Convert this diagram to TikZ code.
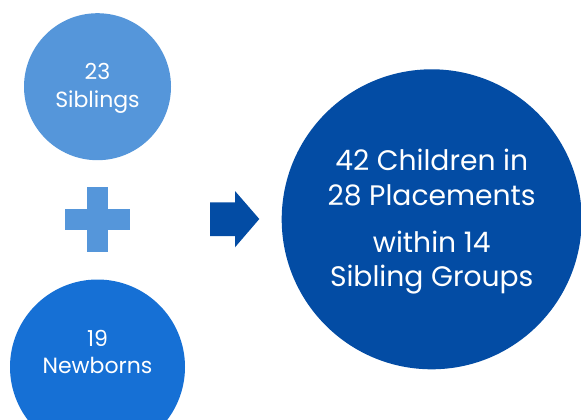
\documentclass[tikz,border=0pt]{standalone}
\usepackage{fontspec}
\setmainfont{Poppins}
\definecolor{lightblue}{HTML}{5596DA}
\definecolor{midblue}{HTML}{1670D5}
\definecolor{darkblue}{HTML}{034CA4}
\begin{document}
\begin{tikzpicture}[x=1pt,y=-1pt,
  disc/.style={circle,inner sep=0pt,draw=none},
  smalltxt/.style={text=white,anchor=base,inner sep=0pt,font=\fontsize{22}{26}\selectfont},
  bigtxt/.style={text=white,anchor=base,inner sep=0pt,font=\fontsize{28.2}{33}\selectfont}]
\useasboundingbox (0,0) rectangle (581,420);
\clip (0,0) rectangle (581,420);
\node[disc,fill=lightblue,minimum size=147pt] (sib) at (97.5,86.7) {};
\node[disc,fill=midblue,minimum size=175pt] (new) at (97.5,367) {};
\node[disc,fill=darkblue,minimum size=300pt] (res) at (431.7,219.3) {};
% plus
\fill[lightblue] (87.3,186.7) rectangle (107.7,251.7);
\fill[lightblue] (65,209) rectangle (130,230);
% arrow
\fill[darkblue] (210,202.3) -- (235,202.3) -- (235,191) -- (259.3,219) -- (235,247.3) -- (235,236) -- (210,236) -- cycle;
% texts
\node[smalltxt] (t1) at (97.5,80) {23};
\node[smalltxt] (t2) at (97.5,107.3) {Siblings};
\node[smalltxt] (t3) at (97.5,346) {19};
\node[smalltxt] (t4) at (97.5,373.3) {Newborns};
\node[bigtxt] (b1) at (431.7,170.7) {42 Children in};
\node[bigtxt] (b2) at (431.7,205) {28 Placements};
\node[bigtxt] (b3) at (431.7,252.7) {within 14};
\node[bigtxt] (b4) at (431.7,286) {Sibling Groups};
\end{tikzpicture}
\end{document}
